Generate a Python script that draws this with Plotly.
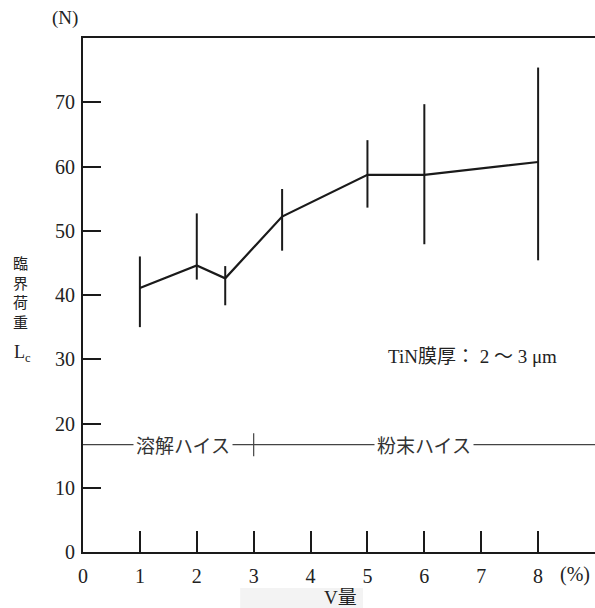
import plotly.graph_objects as go

# Data
v_amount = [1, 2, 2.5, 3.5, 5, 6, 8]
lc_mean = [41.1, 44.6, 42.6, 52.2, 58.7, 58.7, 60.7]
lc_high = [46.0, 52.7, 44.5, 56.5, 64.1, 69.7, 75.4]
lc_low = [35.0, 42.4, 38.4, 46.9, 53.6, 47.9, 45.4]
x_ticks = [0, 1, 2, 3, 4, 5, 6, 7, 8]
y_ticks = [0, 10, 20, 30, 40, 50, 60, 70]
hss_level = 16.7
hss_boundary = 3
hss_labels = ["溶解ハイス", "粉末ハイス"]
hss_label_x = [1.75, 6.0]

err_plus = [h - m for h, m in zip(lc_high, lc_mean)]
err_minus = [m - l for m, l in zip(lc_mean, lc_low)]

SERIF = "Liberation Serif, Times New Roman, serif"
JP = "Noto Sans CJK JP, sans-serif"
INK = "#1a1a1a"

fig = go.Figure()

# HSS divider line
fig.add_trace(go.Scatter(
    x=[0, 9], y=[hss_level, hss_level], mode="lines",
    line=dict(color="#444", width=1.2), hoverinfo="skip", showlegend=False))
fig.add_trace(go.Scatter(
    x=[hss_boundary, hss_boundary], y=[hss_level - 1.8, hss_level + 1.8], mode="lines",
    line=dict(color="#444", width=1.2), hoverinfo="skip", showlegend=False))

fig.add_trace(go.Scatter(
    x=v_amount, y=lc_mean, mode="lines",
    line=dict(color=INK, width=2.2),
    error_y=dict(type="data", symmetric=False, array=err_plus, arrayminus=err_minus,
                 width=0, thickness=2, color=INK),
    showlegend=False))

for lab, lx in zip(hss_labels, hss_label_x):
    fig.add_annotation(x=lx, y=hss_level, xref="x", yref="y", text=lab, showarrow=False,
                       xanchor="center", yanchor="middle",
                       font=dict(family=JP, size=19, color="#333"), bgcolor="white",
                       borderpad=2)

fig.add_annotation(x=5.32, y=30.5, xref="x", yref="y", xanchor="left", yanchor="middle",
                   text="TiN膜厚： 2 ～ 3 μm",
                   showarrow=False, font=dict(family=SERIF + ", " + JP, size=19, color="#222"))

fig.add_annotation(x=-0.035, y=1.038, xref="paper", yref="paper", text="(N)", showarrow=False,
                   xanchor="center", yanchor="middle",
                   font=dict(family=SERIF, size=19, color="#222"))
fig.add_annotation(x=0.961, y=-0.0447, xref="paper", yref="paper", text="(%)", showarrow=False,
                   xanchor="center", yanchor="middle",
                   font=dict(family=SERIF, size=20, color="#222"))
fig.add_annotation(x=0.502, y=-0.089, xref="paper", yref="paper", text="V量", showarrow=False,
                   xanchor="center", yanchor="middle",
                   font=dict(family=SERIF + ", " + JP, size=19, color="#222"))
fig.add_annotation(x=-0.123, y=0.505, xref="paper", yref="paper", text="臨<br>界<br>荷<br>重",
                   xanchor="center", yanchor="middle",
                   showarrow=False, font=dict(family=JP, size=15, color="#222"))
fig.add_annotation(x=-0.119, y=0.387, xref="paper", yref="paper", text="L<sub>c</sub>",
                   xanchor="center", yanchor="middle",
                   showarrow=False, font=dict(family=SERIF, size=18, color="#222"))

fig.add_shape(type="rect", xref="paper", yref="paper", x0=0.307, x1=0.547, y0=-0.109, y1=-0.07,
              fillcolor="#f3f3f3", line=dict(width=0), layer="below")

fig.update_layout(
    width=595, height=608,
    margin=dict(l=83, r=0, t=37.5, b=56),
    paper_bgcolor="white", plot_bgcolor="white",
    xaxis=dict(range=[0, 9], tickvals=x_ticks, ticktext=[str(t) for t in x_ticks],
               showgrid=False, zeroline=False, showline=True, mirror=True,
               linecolor=INK, linewidth=2, ticks="inside", ticklen=21, tickwidth=1.8,
               tickcolor=INK, ticklabelstandoff=5,
               tickfont=dict(family=SERIF, size=20, color="#222")),
    yaxis=dict(range=[0, 80], tickvals=y_ticks, ticktext=[str(t) for t in y_ticks],
               showgrid=False, zeroline=False, showline=True, mirror=False,
               linecolor=INK, linewidth=2, ticks="inside", ticklen=18, tickwidth=1.8,
               tickcolor=INK, ticklabelstandoff=2,
               tickfont=dict(family=SERIF, size=20, color="#222")),
)

fig.write_html("out.html")
